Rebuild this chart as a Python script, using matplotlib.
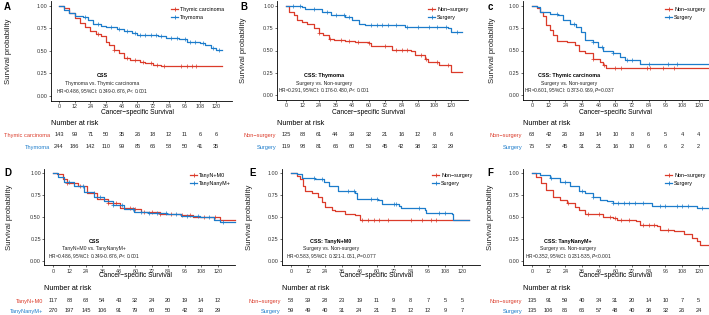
import numpy as np
import matplotlib
matplotlib.use('Agg')
import matplotlib.pyplot as plt
from matplotlib.transforms import blended_transform_factory as blend

plt.rcParams['font.family'] = ['Liberation Sans', 'DejaVu Sans']

RED = '#DB3B2A'
BLUE = '#1C7CCB'
W, H = 709, 315

risk_times = [0, 12, 24, 36, 48, 60, 72, 84, 96, 108, 120]

# ---- A: Thymic carcinoma vs Thymoma
a_red_t = [0, 4, 8, 12, 16, 20, 24, 28, 32, 36, 38, 42, 46, 50, 54, 62, 66, 72, 78, 125]
a_red_s = [1.0, 0.97, 0.92, 0.86, 0.81, 0.76, 0.72, 0.69, 0.66, 0.60, 0.56, 0.51, 0.48, 0.42, 0.40, 0.38, 0.36, 0.34, 0.33, 0.33]
a_red_c = [30, 42, 52, 58, 64, 70, 75, 80, 93, 98, 102, 105]
a_blue_t = [0, 4, 8, 12, 18, 22, 26, 32, 36, 44, 50, 56, 60, 76, 82, 92, 98, 108, 112, 116, 120, 125]
a_blue_s = [1.0, 0.95, 0.92, 0.89, 0.87, 0.84, 0.80, 0.77, 0.76, 0.74, 0.72, 0.70, 0.67, 0.66, 0.64, 0.63, 0.60, 0.59, 0.57, 0.53, 0.51, 0.51]
a_blue_c = [20, 30, 40, 46, 52, 58, 62, 66, 70, 74, 78, 86, 90, 96, 100, 104, 110, 118, 122]
a_red_risk = [143, 99, 71, 50, 35, 26, 18, 12, 11, 6, 6]
a_blue_risk = [244, 186, 142, 110, 99, 85, 66, 58, 50, 41, 35]

# ---- B: Thymoma, surgery
b_red_t = [0, 2, 5.6, 8, 11.6, 15, 20, 24, 27, 31, 34.6, 43, 50, 60, 62, 77, 91, 94, 101, 103.5, 111, 120, 128]
b_red_s = [1.0, 0.93, 0.90, 0.84, 0.82, 0.80, 0.75, 0.69, 0.67, 0.63, 0.62, 0.61, 0.59, 0.58, 0.55, 0.51, 0.49, 0.45, 0.41, 0.37, 0.34, 0.26, 0.26]
b_red_c = [24, 32, 40, 46, 52, 60, 72, 80, 84, 88, 98, 102, 110, 118]
b_blue_t = [0, 11.6, 14, 26, 33, 43, 48, 53, 57.6, 82, 86.6, 118, 120, 128]
b_blue_s = [1.0, 0.99, 0.96, 0.93, 0.90, 0.87, 0.84, 0.80, 0.79, 0.78, 0.76, 0.75, 0.71, 0.71]
b_blue_c = [5, 10, 20, 30, 36, 42, 46, 62, 66, 70, 74, 80, 88, 96, 104, 110, 116, 124]
b_red_risk = [125, 88, 61, 44, 39, 32, 21, 16, 12, 8, 6]
b_blue_risk = [119, 98, 81, 66, 60, 53, 45, 42, 38, 33, 29]

# ---- C: Thymic carcinoma, surgery
c_red_t = [0, 3.3, 5.7, 8, 10, 13, 15, 17.7, 25, 31, 34, 38, 44, 49, 51, 53.5, 135]
c_red_s = [1.0, 0.97, 0.93, 0.88, 0.78, 0.73, 0.67, 0.61, 0.59, 0.56, 0.50, 0.47, 0.41, 0.37, 0.34, 0.31, 0.31]
c_red_c = [44, 52, 60, 64, 83, 85, 94, 102]
c_blue_t = [0, 3.3, 5.7, 13, 19, 22.5, 27, 32, 35.6, 38, 44, 47.6, 51, 58, 63, 66.7, 77.5, 135]
c_blue_s = [1.0, 0.99, 0.93, 0.91, 0.90, 0.84, 0.80, 0.76, 0.71, 0.62, 0.60, 0.54, 0.50, 0.47, 0.43, 0.39, 0.35, 0.35]
c_blue_c = [18, 30, 44, 50, 58, 68, 72, 84, 98, 104]
c_red_risk = [68, 42, 26, 19, 14, 10, 8, 6, 5, 4, 4]
c_blue_risk = [75, 57, 45, 31, 21, 16, 10, 6, 6, 2, 2]

# ---- D: TanyN+M0 vs TanyNanyM+
d_red_t = [0, 3, 7, 10, 18, 25, 32, 40, 49, 59, 64, 78, 93, 102, 122, 133]
d_red_s = [1.0, 0.99, 0.94, 0.89, 0.85, 0.78, 0.71, 0.66, 0.60, 0.59, 0.56, 0.54, 0.52, 0.50, 0.46, 0.46]
d_red_c = [10, 20, 30, 40, 46, 56, 60, 66, 72, 78, 86, 94, 100, 110, 118]
d_blue_t = [0, 4, 8, 15, 22.5, 30, 37, 44, 52, 59, 69, 83, 93, 107, 117, 122, 133]
d_blue_s = [1.0, 0.96, 0.90, 0.85, 0.79, 0.73, 0.68, 0.64, 0.59, 0.56, 0.55, 0.53, 0.51, 0.50, 0.47, 0.44, 0.44]
d_blue_c = [12, 22, 34, 44, 50, 58, 64, 70, 76, 82, 90, 98, 106, 114, 124]
d_red_risk = [117, 88, 68, 54, 43, 32, 24, 20, 19, 14, 12]
d_blue_risk = [270, 197, 145, 106, 91, 79, 60, 50, 42, 33, 29]

# ---- E: TanyN+M0, surgery
e_red_t = [0, 4, 6.3, 8.7, 10, 14.5, 19, 21.5, 24, 28.6, 31, 38, 45, 48.5, 125]
e_red_s = [1.0, 0.97, 0.94, 0.86, 0.80, 0.78, 0.73, 0.67, 0.62, 0.58, 0.57, 0.54, 0.52, 0.47, 0.47]
e_red_c = [50, 54, 58, 62, 68, 84, 92, 98, 102]
e_blue_t = [0, 4, 7.5, 17, 23, 27, 33, 45, 46, 61, 64, 75.5, 77, 94, 95, 113, 114, 125]
e_blue_s = [1.0, 0.99, 0.95, 0.94, 0.90, 0.86, 0.80, 0.77, 0.71, 0.70, 0.65, 0.63, 0.60, 0.58, 0.55, 0.54, 0.47, 0.47]
e_blue_c = [16, 22, 40, 44, 56, 60, 72, 74, 90, 104, 108]
e_red_risk = [58, 39, 28, 23, 19, 11, 9, 8, 7, 5, 5]
e_blue_risk = [59, 49, 40, 31, 24, 21, 15, 12, 12, 9, 7]

# ---- F: TanyNanyM+, surgery
f_red_t = [0, 3, 6.7, 10, 15, 20, 25, 31, 34, 38, 46, 51, 58, 61, 75, 78, 90, 92, 102, 109, 115, 118.5, 121, 135]
f_red_s = [1.0, 0.96, 0.89, 0.81, 0.73, 0.69, 0.66, 0.62, 0.58, 0.54, 0.53, 0.50, 0.49, 0.46, 0.45, 0.41, 0.40, 0.35, 0.34, 0.30, 0.26, 0.22, 0.18, 0.18]
f_red_c = [26, 40, 48, 56, 60, 64, 70, 80, 84, 88, 98]
f_blue_t = [0, 5.5, 12.7, 20, 27, 34, 38, 44, 49, 53.6, 58, 86, 118.6, 135]
f_blue_s = [1.0, 0.98, 0.95, 0.90, 0.85, 0.80, 0.77, 0.73, 0.70, 0.68, 0.66, 0.63, 0.60, 0.60]
f_blue_c = [14, 24, 36, 44, 58, 62, 66, 70, 74, 80, 92, 96, 104, 108, 112, 122]
f_red_risk = [135, 91, 59, 40, 34, 31, 20, 14, 10, 7, 5]
f_blue_risk = [135, 106, 86, 66, 57, 48, 40, 36, 32, 26, 24]

letters = ['A', 'B', 'c', 'D', 'E', 'F']
red_names = ['Thymic carcinoma', 'Non\u2212surgery', 'Non\u2212surgery', 'TanyN+M0', 'Non\u2212surgery', 'Non\u2212surgery']
blue_names = ['Thymoma', 'Surgery', 'Surgery', 'TanyNanyM+', 'Surgery', 'Surgery']
titles = ['CSS', 'CSS: Thymoma', 'CSS: Thymic carcinoma', 'CSS', 'CSS: TanyN+M0', 'CSS: TanyNanyM+']
compares = ['Thymoma vs. Thymic carcinoma', 'Surgery vs. Non-surgery', 'Surgery vs. Non-surgery',
            'TanyN+M0 vs. TanyNanyM+', 'Surgery vs. Non-surgery', 'Surgery vs. Non-surgery']
hr_texts = [r'HR=0.486, 95%CI: 0.349-0.676, $\it{P}$< 0.001',
            r'HR=0.291, 95%CI: 0.176-0.480, $\it{P}$< 0.001',
            r'HR=0.601, 95%CI: 0.373-0.969, $\it{P}$=0.037',
            r'HR=0.486, 95%CI: 0.349-0.676, $\it{P}$< 0.001',
            r'HR=0.583, 95%CI: 0.321-1.061, $\it{P}$=0.077',
            r'HR=0.352, 95%CI: 0.231-535, $\it{P}$<0.001']

curves = [
    (a_red_t, a_red_s, a_red_c, a_blue_t, a_blue_s, a_blue_c, a_red_risk, a_blue_risk),
    (b_red_t, b_red_s, b_red_c, b_blue_t, b_blue_s, b_blue_c, b_red_risk, b_blue_risk),
    (c_red_t, c_red_s, c_red_c, c_blue_t, c_blue_s, c_blue_c, c_red_risk, c_blue_risk),
    (d_red_t, d_red_s, d_red_c, d_blue_t, d_blue_s, d_blue_c, d_red_risk, d_blue_risk),
    (e_red_t, e_red_s, e_red_c, e_blue_t, e_blue_s, e_blue_c, e_red_risk, e_blue_risk),
    (f_red_t, f_red_s, f_red_c, f_blue_t, f_blue_s, f_blue_c, f_red_risk, f_blue_risk),
]

# layout (pixels): x of month 0, px per month, y of 1.00, y of 0.00
layout = [
    dict(x0=59, s=1.308, y1=5.7, y0=96.0, ylab=5, let=(4, 7), leg=(171, 7), note_x=33),
    dict(x0=286, s=1.375, y1=5.7, y0=95.3, ylab=240, let=(240, 7), leg=(428, 7), note_x=28),
    dict(x0=532, s=1.39, y1=5.7, y0=95.3, ylab=489, let=(488, 7), leg=(665, 7), note_x=27),
    dict(x0=53, s=1.372, y1=173.3, y0=260.7, ylab=6, let=(4, 173), leg=(190, 173), note_x=30),
    dict(x0=291, s=1.425, y1=173.3, y0=260.7, ylab=246, let=(249, 173), leg=(432, 173), note_x=28),
    dict(x0=532, s=1.39, y1=173.3, y0=260.7, ylab=487, let=(487, 173), leg=(665, 173), note_x=26),
]
rows_y = [(112.5, 124, 135, 147), (275.5, 288, 301, 311)]

XMIN, XMAX = -6.3, 132.3

fig = plt.figure(figsize=(W / 100, H / 100), dpi=100)
fig.patch.set_facecolor('white')

def fy(p):
    return 1 - p / H

for i, (lay, cv) in enumerate(zip(layout, curves)):
    rt, rs, rc, bt, bs, bc, rrisk, brisk = cv
    u = lay['y0'] - lay['y1']
    left = lay['x0'] + XMIN * lay['s']
    right = lay['x0'] + XMAX * lay['s']
    top = lay['y1'] - 0.05 * u
    bot = lay['y0'] + 0.05 * u
    ax = fig.add_axes([left / W, fy(bot), (right - left) / W, (bot - top) / H])
    ax.set_xlim(XMIN, XMAX)
    ax.set_ylim(-0.05, 1.05)
    for sp in ['top', 'right']:
        ax.spines[sp].set_visible(False)
    for sp in ['left', 'bottom']:
        ax.spines[sp].set_linewidth(0.6)
    ax.set_xticks(risk_times)
    ax.set_yticks([0, 0.25, 0.5, 0.75, 1.0])
    ax.set_yticklabels(['0.00', '0.25', '0.50', '0.75', '1.00'])
    ax.tick_params(labelsize=3.9, length=1.5, width=0.5, pad=1.0, colors='#333333')

    handles = []
    for t, s, c, col in [(rt, rs, rc, RED), (bt, bs, bc, BLUE)]:
        t = np.array(t, float)
        s = np.array(s, float)
        ax.step(t, s, where='post', color=col, lw=0.9, clip_on=False)
        c = np.array(c, float)
        cy = s[np.searchsorted(t, c, side='right') - 1]
        ax.plot(c, cy, ls='none', marker='+', ms=2.5, mew=0.5, color=col)
        h, = ax.plot([], [], color=col, lw=0.9, marker='+', ms=3, mew=0.6)
        handles.append(h)

    lx = (lay['leg'][0] - left) / (right - left)
    ly = (bot - lay['leg'][1]) / (bot - top)
    ax.legend(handles, [red_names[i], blue_names[i]], loc='upper left', bbox_to_anchor=(lx, ly),
              frameon=False, fontsize=3.9, handlelength=1.3, handletextpad=0.4,
              labelspacing=0.55, borderpad=0, borderaxespad=0)

    nx = lay['note_x']
    ax.text(nx, 0.225, titles[i], ha='center', va='center', fontsize=3.9, fontweight='bold')
    ax.text(nx, 0.135, compares[i], ha='center', va='center', fontsize=3.7, color='#222222')
    ax.text(nx, 0.045, hr_texts[i], ha='center', va='center', fontsize=3.5, color='#222222')

    # axis labels
    ry = rows_y[i // 3]
    tr_x = blend(ax.transData, fig.transFigure)
    ax.text(60, fy(ry[0]), 'Cancer\u2212specific Survival', transform=tr_x,
            ha='center', va='center', fontsize=4.8)
    fig.text(lay['ylab'] / W, fy((lay['y1'] + lay['y0']) / 2), 'Survival probability',
             rotation=90, ha='left', va='center', fontsize=5.6, color='#222222')
    fig.text(lay['let'][0] / W, fy(lay['let'][1]), letters[i], ha='left', va='center',
             fontsize=7, fontweight='bold')

    # number at risk table
    tr_a = blend(ax.transAxes, fig.transFigure)
    ax.text(0, fy(ry[1]), 'Number at risk', transform=tr_a, ha='left', va='center', fontsize=5.2)
    for yy, counts, name, col in [(ry[2], rrisk, red_names[i], RED), (ry[3], brisk, blue_names[i], BLUE)]:
        ax.text(-0.005, fy(yy), name, transform=tr_a, ha='right', va='center', fontsize=4.1, color=col)
        for tt, n in zip(risk_times, counts):
            ax.text(tt, fy(yy), str(n), transform=tr_x, ha='center', va='center', fontsize=4.1,
                    color='#222222')

fig.savefig('out.png', dpi=100)
